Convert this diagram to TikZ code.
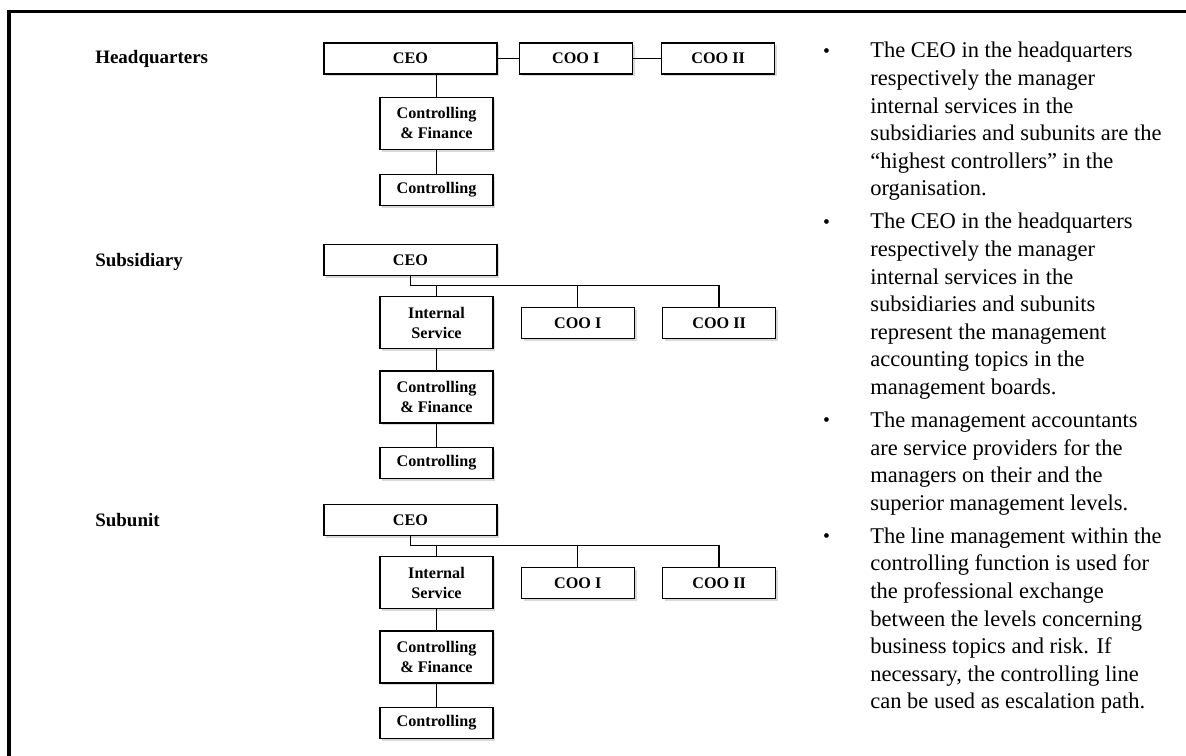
\documentclass[tikz,border=0pt]{standalone}
\usepackage{fontspec}
\setmainfont{Liberation Serif}
\usetikzlibrary{positioning, shadows}
\tikzstyle{orgNode} = [rectangle, minimum width=2.825cm, minimum height=0.775cm, inner sep=0pt, text centered, align=center, draw=black, line width=0.9pt, fill=white, font=\bfseries\fontsize{11.5pt}{14pt}\selectfont, drop shadow={shadow xshift=1.6pt, shadow yshift=-1.6pt, opacity=0.3}]
\tikzstyle{orgNodeW} = [orgNode, minimum width=4.325cm]
\tikzstyle{orgNodeT} = [orgNode, minimum height=1.3cm]
\tikzstyle{lvlNode} = [anchor=west, inner sep=0pt, font=\bfseries\fontsize{13.5pt}{16pt}\selectfont]
\tikzstyle{noteText} = [anchor=north west, inner sep=0pt, align=left, font=\fontsize{16pt}{19.6pt}\selectfont]
\tikzstyle{line} = [line width=0.9pt, draw=black]
\tikzstyle{frameLine} = [line width=2.5pt, draw=black]
\newcommand{\notebullet}{\llap{\makebox[1.18cm][l]{\raisebox{0.5pt}{\fontsize{14pt}{14pt}\selectfont\textbullet}}}}

\begin{document}
\begin{tikzpicture}[x=0.025cm, y=0.025cm]
        \useasboundingbox (0,0) rectangle (1186,-756);
        \draw [frameLine] (9,-756) -- (9,-11.5) -- (1186,-11.5);

        % headquarters
        \node (hqLbl) [lvlNode] at (95,-58.5) {Headquarters};
        \node (hqCeo) [orgNodeW] at (410.5,-58.5) {CEO};
        \node (hqCooI) [orgNode, right=0.525cm of hqCeo] {COO I};
        \node (hqCooII) [orgNode, right=0.7cm of hqCooI] {COO II};
        \node (hqCf) [orgNodeT, below=0.55cm of hqCeo, xshift=0.65cm] {Controlling\\\& Finance};
        \node (hqCtrl) [orgNode, below=0.6cm of hqCf] {Controlling};

        \draw [line] (hqCeo) -- (hqCooI);
        \draw [line] (hqCooI) -- (hqCooII);
        \draw [line] (hqCeo.south -| hqCf) -- (hqCf);
        \draw [line] (hqCf) -- (hqCtrl);

        % subsidiary
        \node (subLbl) [lvlNode] at (95,-262) {Subsidiary};
        \node (subCeo) [orgNodeW] at (410.5,-260) {CEO};
        \node (subIs) [orgNodeT, below=0.5cm of subCeo, xshift=0.65cm] {Internal\\Service};
        \node (subCooI) [orgNode, right=0.675cm of subIs] {COO I};
        \node (subCooII) [orgNode, right=0.675cm of subCooI] {COO II};
        \node (subCf) [orgNodeT, below=0.525cm of subIs] {Controlling\\\& Finance};
        \node (subCtrl) [orgNode, below=0.575cm of subCf] {Controlling};
        \coordinate (subBus) at ([yshift=-0.225cm]subCeo.south);

        \draw [line] (subCeo) -- (subBus) -| (subCooII);
        \draw [line] (subBus -| subIs) -- (subIs);
        \draw [line] (subBus -| subCooI) -- (subCooI);
        \draw [line] (subIs) -- (subCf);
        \draw [line] (subCf) -- (subCtrl);

        % subunit
        \node (unitLbl) [lvlNode] at (95,-520) {Subunit};
        \node (unitCeo) [orgNodeW] at (410.5,-520) {CEO};
        \node (unitIs) [orgNodeT, below=0.5cm of unitCeo, xshift=0.65cm] {Internal\\Service};
        \node (unitCooI) [orgNode, right=0.675cm of unitIs] {COO I};
        \node (unitCooII) [orgNode, right=0.675cm of unitCooI] {COO II};
        \node (unitCf) [orgNodeT, below=0.525cm of unitIs] {Controlling\\\& Finance};
        \node (unitCtrl) [orgNode, below=0.575cm of unitCf] {Controlling};
        \coordinate (unitBus) at ([yshift=-0.225cm]unitCeo.south);

        \draw [line] (unitCeo) -- (unitBus) -| (unitCooII);
        \draw [line] (unitBus -| unitIs) -- (unitIs);
        \draw [line] (unitBus -| unitCooI) -- (unitCooI);
        \draw [line] (unitIs) -- (unitCf);
        \draw [line] (unitCf) -- (unitCtrl);

        % notes
        \node (notes) [noteText] at (870,-42) {%
            \notebullet The CEO in the headquarters\\
            respectively the manager\\
            internal services in the\\
            subsidiaries and subunits are the\\
            “highest controllers” in the\\
            organisation.\\[4pt]
            \notebullet The CEO in the headquarters\\
            respectively the manager\\
            internal services in the\\
            subsidiaries and subunits\\
            represent the management\\
            accounting topics in the\\
            management boards.\\[4pt]
            \notebullet The management accountants\\
            are service providers for the\\
            managers on their and the\\
            superior management levels.\\[4pt]
            \notebullet The line management within the\\
            controlling function is used for\\
            the professional exchange\\
            between the levels concerning\\
            business topics and risk. If\\
            necessary, the controlling line\\
            can be used as escalation path.};
    \end{tikzpicture}
\end{document}
